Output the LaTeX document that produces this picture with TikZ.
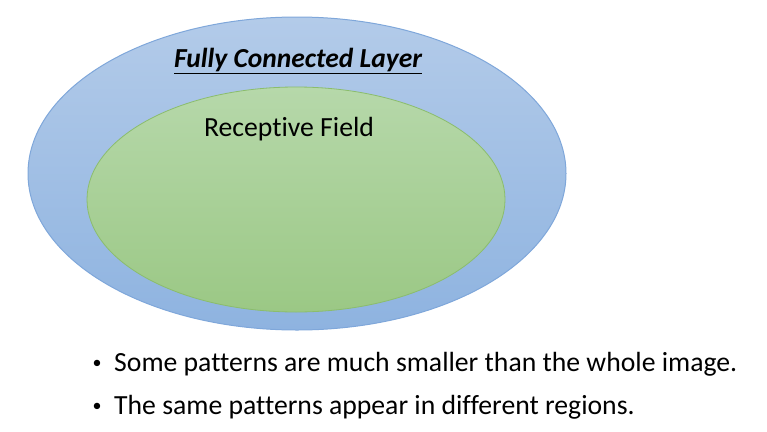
\documentclass[tikz,border=0pt]{standalone}
\usepackage{fontspec}
\setmainfont{Carlito}[Ligatures=NoCommon]
\usetikzlibrary{shapes.geometric}
\definecolor{outerTop}{HTML}{B3CBE9}
\definecolor{outerBot}{HTML}{8EB3E0}
\definecolor{outerLine}{HTML}{7FA7DA}
\definecolor{innerTop}{HTML}{B6D8AA}
\definecolor{innerBot}{HTML}{9BC885}
\definecolor{innerLine}{HTML}{8BBD6C}
\tikzset{
  outerell/.style={ellipse, draw=outerLine, line width=1pt, top color=outerTop, bottom color=outerBot, inner sep=0pt},
  innerell/.style={ellipse, draw=innerLine, line width=0.8pt, top color=innerTop, bottom color=innerBot, inner sep=0pt},
  lbl/.style={font=\fontsize{27.7}{32}\selectfont, text=black, inner sep=0pt},
  bul/.style={font=\fontsize{18}{22}\selectfont, text=black, inner sep=0pt},
}
\begin{document}
\begin{tikzpicture}[x=1pt,y=-1pt]
\useasboundingbox (0,0) rectangle (767,431);
\node[outerell, minimum width=538pt, minimum height=313pt] (outer) at (297,173.5) {};
\node[innerell, minimum width=418pt, minimum height=225pt] (inner) at (296,199.5) {};
\node[lbl, font=\fontsize{27.5}{32}\selectfont\bfseries\itshape] (title) at (298,61) {\underline{Fully Connected Layer}};
\node[lbl] (rf) at (289,129) {Receptive Field};
\node[bul] (d1) at (97,364) {\textbullet};
\node[bul] (d2) at (97,407) {\textbullet};
\node[lbl, anchor=west] (b1) at (114,364) {Some patterns are much smaller than the whole image.};
\node[lbl, anchor=west] (b2) at (114,407) {The same patterns appear in different regions.};
\end{tikzpicture}
\end{document}
